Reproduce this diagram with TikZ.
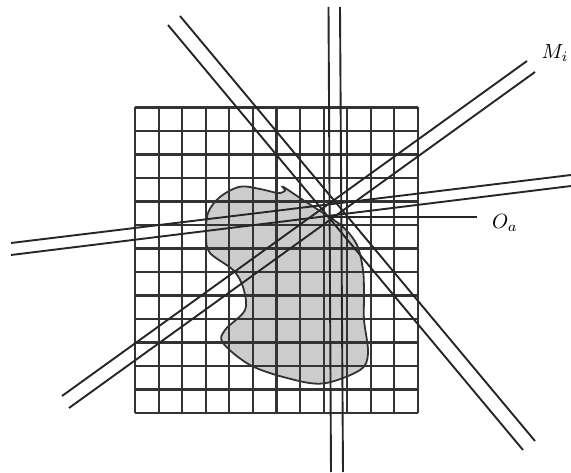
\documentclass[tikz,border=0pt]{standalone}
\usepackage{graphicx}
\tikzset{
  gridline/.style={draw=black!80,line width=2.08pt},
  beam/.style={draw=black!85,line width=1.9pt},
  blob/.style={draw=black!80,line width=1.8pt,fill=black!20},
  lab/.style={inner sep=0pt}
}
\begin{document}
\begin{tikzpicture}[x=1pt,y=-1pt]
\useasboundingbox (0,0) rectangle (571,473);
% shape
\draw[blob] plot[smooth cycle,tension=0.55] coordinates {
 (240,186.7) (260,189) (278,193) (285,190.7) (283,186.7) (300,198) (323,213)
 (343,227) (357,245) (363,270) (364,295) (364,320) (368,353) (360,370) (323,383.5)
 (287,378) (250,365) (223,343) (225,330) (245,310) (243,287) (233,270)
 (210,253) (206,237) (208,213) (220,197)};
% grid
\foreach \i in {0,...,12} {
  \draw[gridline] ({135+\i*23.58},107.5) -- ({135+\i*23.58},413);
}
\foreach \j in {0,...,13} {
  \draw[gridline] (135,{107.5+\j*23.5}) -- (418,{107.5+\j*23.5});
}
% beams
\coordinate (v1a) at (328.5,7);  \coordinate (v1b) at (331,472);
\coordinate (v2a) at (340,7);    \coordinate (v2b) at (343,472);
\coordinate (d1a) at (168,25);   \coordinate (d1b) at (523,450);
\coordinate (d2a) at (180,16);   \coordinate (d2b) at (535,441);
\coordinate (e1a) at (62,396);   \coordinate (e1b) at (527,61);
\coordinate (e2a) at (69,408);   \coordinate (e2b) at (535,72);
\coordinate (h1a) at (11,243);   \coordinate (h1b) at (571,175);
\coordinate (h2a) at (11,255);   \coordinate (h2b) at (571,186);
\draw[beam] (v1a) -- (v1b);
\draw[beam] (v2a) -- (v2b);
\draw[beam] (d1a) -- (d1b);
\draw[beam] (d2a) -- (d2b);
\draw[beam] (e1a) -- (e1b);
\draw[beam] (e2a) -- (e2b);
\draw[beam] (h1a) -- (h1b);
\draw[beam] (h2a) -- (h2b);
% labels
\node[lab] (mi) at (555,53) {\scalebox{2.05}{$M_i$}};
\node[lab] (oa) at (505,223) {\scalebox{2.05}{$O_a$}};
\coordinate (oc) at (330,217);
\coordinate (oe) at (477,217);
\draw[beam] (oc) -- (oe);
\end{tikzpicture}
\end{document}
